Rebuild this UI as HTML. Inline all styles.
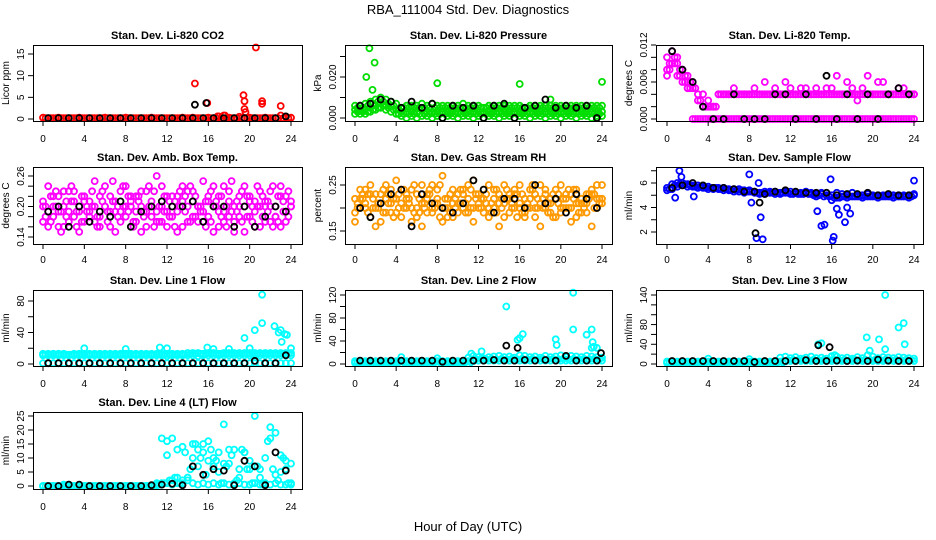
<!DOCTYPE html>
<html><head><meta charset="utf-8"><style>
html,body{margin:0;padding:0;background:#fff;}
svg{display:block;font-family:"Liberation Sans",Arial,sans-serif;}
</style></head><body>
<svg id="c" width="936" height="540" viewBox="0 0 936 540" xmlns="http://www.w3.org/2000/svg">
<text x="468" y="14" text-anchor="middle" font-size="13">RBA_111004  Std. Dev. Diagnostics</text>
<text x="468" y="531" text-anchor="middle" font-size="13">Hour of Day (UTC)</text>
</svg>
<script>
const H=[0,0.5,1,1.5,2,2.5,3,3.5,4,4.5,5,5.5,6,6.5,7,7.5,8,8.5,9,9.5,10,10.5,11,11.5,12,12.5,13,13.5,14,14.5,15,15.5,16,16.5,17,17.5,18,18.5,19,19.5,20,20.5,21,21.5,22,22.5,23,23.5,24];
const HQ=[0.25,0.75,1.25,1.75,2.25,2.75,3.25,3.75,4.25,4.75,5.25,5.75,6.25,6.75,7.25,7.75,8.25,8.75,9.25,9.75,10.25,10.75,11.25,11.75,12.25,12.75,13.25,13.75,14.25,14.75,15.25,15.75,16.25,16.75,17.25,17.75,18.25,18.75,19.25,19.75,20.25,20.75,21.25,21.75,22.25,22.75,23.25,23.75];
const HB=[0.5,1.5,2.5,3.5,4.5,5.5,6.5,7.5,8.5,9.5,10.5,11.5,12.5,13.5,14.5,15.5,16.5,17.5,18.5,19.5,20.5,21.5,22.5,23.5];
const xTicks=[0,4,8,12,16,20,24];

const co2Red=[0.3,0.2,0.2,0.3,0.2,0.2,0.2,0.3,0.2,0.2,0.2,0.2,0.3,0.2,0.2,0.2,0.3,0.2,0.2,0.2,0.2,0.3,0.2,0.2,0.2,0.2,0.2,0.3,0.2,0.3,0.2,0.2,0.3,0.2,0.6,0.8,0.3,0.2,0.5,0.2,0.3,0.2,0.2,0.3,0.2,0.2,0.8,0.4,0.3];
const co2RedQ=[0.2,0.2,0.2,0.2,0.2,0.2,0.2,0.2,0.2,0.2,0.2,0.2,0.2,0.2,0.2,0.2,0.2,0.2,0.2,0.2,0.2,0.2,0.2,0.2,0.2,0.2,0.2,0.2,0.2,0.2,0.2,0.2,0.2,0.2,0.2,0.2,0.2,0.2,0.2,0.2,0.2,0.2,0.2,0.2,0.2,0.2,0.2,0.2];
const co2OutH=[14.7,15.9,19.4,19.5,19.5,19.6,20.6,21.2,21.2,23,17.6,16.9];
const co2OutV=[8.2,3.7,5.5,4.1,2.3,1.6,16.5,4.1,3.5,3.0,0.8,0.6];
const co2Black=[0.2,0.2,0.2,0.2,0.2,0.2,0.2,0.2,0.2,0.2,0.2,0.2,0.2,0.2,0.2,0.2,0.2,0.2,0.2,0.2,0.2,0.2,0.2,0.6];
const co2BOutH=[14.7,15.8];
const co2BOutV=[3.3,3.7];

const presHigh=[0.006,0.006,0.007,0.008,0.009,0.010,0.009,0.008,0.007,0.005,0.006,0.006,0.006,0.007,0.006,0.007,0.006,0.006,0.006,0.006,0.006,0.007,0.006,0.006,0.006,0.005,0.006,0.006,0.006,0.006,0.006,0.006,0.006,0.005,0.006,0.006,0.006,0.006,0.006,0.006,0.006,0.006,0.006,0.006,0.006,0.006,0.006,0.006,0.006];
const presMid=[0.004,0.004,0.004,0.005,0.006,0.007,0.006,0.006,0.004,0.003,0.003,0.003,0.003,0.004,0.003,0.003,0.003,0.003,0.003,0.003,0.003,0.003,0.003,0.003,0.003,0.003,0.003,0.003,0.003,0.003,0.003,0.003,0.003,0.003,0.003,0.003,0.003,0.003,0.003,0.003,0.003,0.003,0.003,0.003,0.003,0.003,0.003,0.003,0.003];
const presLow=[0.002,0.002,0.002,0.003,0.004,0.005,0.004,0.003,0.002,0.001,0.000,0.001,0.000,0.001,0.001,0.000,0.001,0.000,0.001,0.001,0.000,0.001,0.001,0.000,0.001,0.000,0.001,0.001,0.000,0.001,0.001,0.000,0.001,0.001,0.000,0.001,0.001,0.000,0.001,0.001,0.000,0.001,0.001,0.000,0.001,0.001,0.000,0.001,0.001];
const presD=[0.005,0.005,0.006,0.007,0.008,0.008,0.007,0.006,0.004,0.005,0.005,0.005,0.005,0.005,0.005,0.005,0.005,0.005,0.005,0.005,0.005,0.005,0.005,0.005,0.005,0.005,0.005,0.005,0.005,0.005,0.005,0.005,0.005,0.005,0.005,0.005,0.005,0.005,0.005,0.005,0.005,0.005,0.005,0.005,0.005,0.005,0.005,0.005];
const presE=[0.003,0.003,0.003,0.004,0.005,0.006,0.005,0.004,0.002,0.002,0.002,0.002,0.002,0.002,0.002,0.002,0.002,0.002,0.002,0.002,0.002,0.002,0.002,0.002,0.002,0.002,0.002,0.002,0.002,0.002,0.002,0.002,0.002,0.002,0.002,0.002,0.002,0.002,0.002,0.002,0.002,0.002,0.002,0.002,0.002,0.002,0.002,0.002];
const presOutH=[1.1,1.4,1.7,1.9,8,16,24,19];
const presOutV=[0.020,0.034,0.0137,0.027,0.017,0.0166,0.0176,0.009];
const presBlack=[0.006,0.007,0.009,0.008,0.005,0.008,0.005,0.007,0.000,0.006,0.005,0.006,0.000,0.006,0.007,0.000,0.005,0.006,0.009,0.005,0.006,0.005,0.006,0.000];

const tempA=[0.010,0.011,0.009,0.008,0.007,0.006,0.004,0.002,0.002,0.002,0.004,0.004,0.004,0.004,0.004,0.004,0.004,0.004,0.004,0.004,0.004,0.004,0.004,0.004,0.004,0.004,0.004,0.004,0.004,0.004,0.004,0.004,0.004,0.004,0.004,0.004,0.004,0.004,0.004,0.004,0.004,0.004,0.004,0.004,0.004,0.004,0.004,0.004,0.004];
const tempB=[0.008,0.009,0.007,0.006,0.005,0.000,0.000,0.000,0.000,0.000,0.000,0.000,0.000,0.000,0.000,0.000,0.000,0.000,0.000,0.000,0.000,0.000,0.000,0.000,0.000,0.000,0.000,0.000,0.000,0.000,0.000,0.000,0.000,0.000,0.000,0.000,0.000,0.000,0.000,0.000,0.000,0.000,0.000,0.000,0.000,0.000,0.000,0.000,0.000];
const tempC=[0.007,0.009,0.010,0.008,0.006,0.005,0.003,0.004,0.003,0.002,0.004,0.004,0.004,0.005,0.004,0.004,0.004,0.005,0.004,0.006,0.004,0.005,0.004,0.006,0.005,0.004,0.005,0.005,0.004,0.005,0.004,0.005,0.005,0.007,0.004,0.006,0.005,0.003,0.005,0.007,0.004,0.006,0.006,0.004,0.004,0.005,0.005,0.004,0.004];
const tempD=[0.009,0.010,0.008,0.007,0.006,0.005,0.003,0.002,0.002,0.002,0.004,0.004,0.004,0.004,0.004,0.004,0.004,0.004,0.004,0.004,0.004,0.004,0.004,0.004,0.004,0.004,0.004,0.004,0.004,0.004,0.004,0.004,0.004,0.004,0.004,0.004,0.004,0.004,0.004,0.004,0.004,0.004,0.004,0.004,0.004,0.004,0.004,0.004];
const tempE=[0.008,0.009,0.007,0.006,0.005,0.000,0.000,0.000,0.000,0.000,0.000,0.000,0.000,0.000,0.000,0.000,0.000,0.000,0.000,0.000,0.000,0.000,0.000,0.000,0.000,0.000,0.000,0.000,0.000,0.000,0.000,0.000,0.000,0.000,0.000,0.000,0.000,0.000,0.000,0.000,0.000,0.000,0.000,0.000,0.000,0.000,0.000,0.000];
const tempBlack=[0.011,0.008,0.006,0.002,0.000,0.000,0.004,0.000,0.000,0.000,0.004,0.004,0.000,0.004,0.000,0.007,0.000,0.004,0.000,0.004,0.000,0.004,0.005,0.004];

const ambA=[0.21,0.24,0.18,0.22,0.16,0.19,0.23,0.2,0.17,0.21,0.25,0.18,0.2,0.22,0.15,0.19,0.24,0.21,0.17,0.2,0.23,0.18,0.26,0.2,0.16,0.22,0.19,0.24,0.17,0.21,0.2,0.25,0.18,0.15,0.22,0.19,0.23,0.17,0.2,0.24,0.18,0.21,0.16,0.2,0.23,0.18,0.22,0.19,0.21];
const ambB=[0.17,0.19,0.22,0.16,0.2,0.23,0.18,0.15,0.21,0.19,0.17,0.22,0.2,0.16,0.19,0.23,0.18,0.2,0.22,0.15,0.19,0.21,0.17,0.24,0.19,0.18,0.22,0.16,0.2,0.23,0.17,0.19,0.21,0.2,0.16,0.24,0.18,0.2,0.22,0.15,0.21,0.19,0.23,0.17,0.2,0.18,0.16,0.22,0.2];
const ambC=[0.2,0.16,0.2,0.19,0.23,0.17,0.21,0.19,0.22,0.18,0.2,0.16,0.24,0.19,0.21,0.17,0.2,0.22,0.19,0.23,0.16,0.2,0.19,0.17,0.22,0.2,0.15,0.21,0.23,0.18,0.2,0.17,0.22,0.24,0.19,0.17,0.21,0.15,0.18,0.2,0.22,0.16,0.2,0.21,0.17,0.2,0.24,0.17,0.2];
const ambD=[0.18,0.22,0.2,0.15,0.21,0.24,0.19,0.17,0.2,0.23,0.16,0.21,0.19,0.25,0.18,0.2,0.22,0.17,0.21,0.19,0.24,0.16,0.2,0.22,0.18,0.21,0.23,0.19,0.17,0.22,0.2,0.16,0.23,0.21,0.18,0.2,0.25,0.19,0.17,0.22,0.2,0.24,0.18,0.21,0.16,0.22,0.19,0.23];
const ambE=[0.2,0.17,0.23,0.19,0.18,0.21,0.16,0.22,0.19,0.2,0.18,0.23,0.17,0.21,0.2,0.24,0.19,0.16,0.22,0.18,0.2,0.23,0.17,0.19,0.21,0.16,0.2,0.22,0.24,0.18,0.19,0.21,0.17,0.2,0.22,0.16,0.19,0.21,0.23,0.18,0.17,0.2,0.22,0.19,0.24,0.17,0.21,0.18];
const ambBlack=[0.19,0.2,0.16,0.2,0.17,0.19,0.18,0.21,0.16,0.19,0.2,0.21,0.2,0.2,0.21,0.17,0.2,0.2,0.16,0.2,0.16,0.18,0.2,0.19];

const rhA=[0.22,0.2,0.24,0.18,0.23,0.21,0.25,0.19,0.22,0.24,0.2,0.17,0.23,0.21,0.19,0.25,0.22,0.2,0.18,0.24,0.21,0.23,0.19,0.26,0.2,0.22,0.18,0.24,0.21,0.25,0.19,0.23,0.2,0.22,0.24,0.18,0.21,0.23,0.19,0.22,0.25,0.2,0.23,0.18,0.22,0.21,0.24,0.2,0.22];
const rhB=[0.19,0.24,0.21,0.23,0.2,0.17,0.22,0.24,0.19,0.21,0.23,0.2,0.18,0.25,0.22,0.2,0.24,0.17,0.22,0.21,0.19,0.24,0.22,0.2,0.23,0.19,0.25,0.2,0.23,0.18,0.22,0.24,0.21,0.19,0.2,0.23,0.25,0.2,0.22,0.24,0.19,0.22,0.2,0.24,0.21,0.19,0.23,0.25,0.21];
const rhC=[0.17,0.22,0.2,0.25,0.16,0.23,0.19,0.21,0.26,0.18,0.22,0.24,0.2,0.16,0.23,0.19,0.21,0.27,0.2,0.18,0.23,0.2,0.25,0.17,0.21,0.24,0.2,0.22,0.16,0.21,0.23,0.2,0.25,0.18,0.22,0.2,0.16,0.24,0.21,0.18,0.2,0.23,0.17,0.21,0.19,0.23,0.16,0.22,0.25];
const rhD=[0.21,0.23,0.19,0.22,0.2,0.24,0.21,0.18,0.23,0.2,0.22,0.25,0.19,0.21,0.24,0.2,0.18,0.22,0.23,0.2,0.21,0.19,0.24,0.22,0.2,0.23,0.21,0.19,0.22,0.24,0.2,0.18,0.23,0.21,0.25,0.2,0.22,0.19,0.23,0.21,0.2,0.24,0.22,0.19,0.21,0.23,0.2,0.22];
const rhE=[0.2,0.22,0.23,0.2,0.21,0.19,0.23,0.22,0.2,0.24,0.21,0.19,0.22,0.2,0.23,0.21,0.25,0.2,0.19,0.22,0.24,0.21,0.2,0.23,0.22,0.21,0.19,0.24,0.2,0.22,0.21,0.23,0.19,0.2,0.24,0.22,0.2,0.21,0.18,0.23,0.22,0.2,0.24,0.21,0.2,0.22,0.23,0.21];
const rhBlack=[0.2,0.18,0.21,0.23,0.24,0.16,0.23,0.21,0.2,0.19,0.21,0.26,0.24,0.19,0.22,0.22,0.2,0.25,0.21,0.22,0.19,0.23,0.22,0.2];

const flowA=[5.6,5.9,6,6,5.9,5.8,5.8,5.7,5.7,5.6,5.6,5.6,5.5,5.5,5.5,5.4,5.3,5.3,5.2,5.3,5.2,5.3,5.2,5.2,5.3,5.2,5.2,5.2,5.1,5.1,5.1,5.0,5.0,5.2,4.9,5.0,4.9,5.0,5.0,4.9,4.9,5.0,5.0,4.9,5.0,4.9,5.0,5.0,5.0];
const flowB=[5.4,5.5,5.7,5.8,5.7,5.7,5.6,5.6,5.5,5.5,5.5,5.4,5.4,5.3,5.3,5.2,5.4,5.2,5.1,5.1,5.3,5.1,5.1,5.3,5.1,5.2,5.1,5.3,5.2,4.9,5.2,5.0,4.6,4.8,5.1,4.8,5.2,4.9,4.8,5.1,5.0,4.8,4.9,5.0,4.8,5.0,4.9,4.8,5.1];
const flowD=[5.5,5.8,5.9,5.9,5.8,5.7,5.7,5.6,5.6,5.6,5.5,5.5,5.4,5.4,5.4,5.3,5.3,5.2,5.2,5.2,5.2,5.2,5.2,5.2,5.1,5.1,5.1,5.1,5.0,5.0,4.9,4.9,4.8,4.8,4.9,4.9,4.9,4.9,4.9,4.9,4.9,4.9,4.9,4.9,4.9,4.9,4.9,4.9];
const flowOutH=[0.8,1.2,1.4,2.6,8,8.2,8.7,8.9,9.1,9.3,14.6,15,15.3,15.9,16.1,16.2,16.5,16.7,17.3,17.5,17.8,24];
const flowOutV=[4.8,7,6.5,4.9,6.7,4.4,1.5,6,3.2,1.4,3.7,2.5,2.6,6.3,1.3,1.6,3.9,3.4,2.8,4,3.5,6.2];
const flowBlack=[5.6,5.8,6.0,5.8,5.6,5.6,5.5,5.3,5.3,5.1,5.3,5.4,5.3,5.2,5.2,5.2,5.0,5.1,5.1,5.2,5.0,5.1,5.0,5.0];
const flowBOutH=[8.6,9.0];
const flowBOutV=[1.9,4.4];

const l1A=[13,13,13,13,13,12,13,13,13,13,13,13,13,13,13,13,13,13,13,13,13,13,13,13,13,13,13,13,14,14,14,13,14,14,13,14,14,14,14,14,14,14,14,14,14,14,14,14,14];
const l1B=[11,11,11,11,11,11,11,11,11,11,11,11,11,11,11,11,11,11,11,11,11,11,11,11,10,11,11,11,11,11,10,11,11,11,11,11,11,11,11,11,11,11,11,11,11,11,11,11,11];
const l1D=[12,12,12,12,12,12,12,12,12,12,12,12,12,12,12,12,12,12,12,12,12,12,12,12,12,12,12,12,13,13,13,13,13,13,13,13,13,13,13,13,13,13,13,13,13,13,13,13];
const l1Low=[1,1,1,1,1,1,1,1,1,1,1,1,1,1,1,1,1,1,1,1,1,1,1,1,1,1,1,1,1,1,1,1,1,1,1,1,1,1,1,1,1,1,1,1,1,1,1,1,1];
const l1OutH=[4,8,11.3,12,15.9,18,19.5,20,20.5,21.2,21.2,22.4,22.8,23,23.1,23.4,23.6,24,16.5];
const l1OutV=[20,19,21,20,21,19,33,20,43,88,52,48,40,43,28,38,37,20,19];
const l1Black=[1,1,1,1,1,1,1,1,1,1,1,1,1,1,1,1,1,1,1,1,4,1,1,11];

const l2A=[5,5,5,5,5,5,5,5,5,5,5,5,5,5,5,5,5,5,5,5,5,5,5,5,6,6,6,6,6,6,6,6,6,6,6,6,6,6,6,6,6,6,6,6,6,6,6,6,6];
const l2B=[2,2,2,2,2,2,2,2,2,12,2,2,2,2,2,2,10,2,2,2,2,2,11,14,12,10,12,13,14,12,13,11,15,14,12,13,11,14,12,13,15,12,14,13,12,14,13,12,11];
const l2D=[3,3,3,3,3,3,3,3,3,3,3,3,3,3,3,3,3,3,3,3,3,3,3,8,9,8,9,8,9,8,9,8,9,8,9,8,9,8,9,8,9,8,9,8,9,8,9,8];
const l2OutH=[14.7,15.8,16,16.3,11.3,12.3,19.5,19.6,21.2,21.2,22.5,23,23,23.1,23.2,23.5];
const l2OutV=[100,42,45,52,18,22,43,33,124,60,51,28,60,38,30,28];
const l2Black=[6,6,6,6,6,6,6,6,4,6,6,6,6,7,6,6,7,6,7,6,14,6,6,6];
const l2BOutH=[14.7,15.8,23.9];
const l2BOutV=[32,28,19];

const l3A=[5,5,5,5,5,5,5,5,5,5,5,5,5,5,5,5,5,5,5,5,5,5,5,5,6,6,6,6,6,6,6,6,6,6,6,6,6,6,6,6,6,6,6,6,6,6,6,6,6];
const l3B=[2,2,2,2,2,2,2,2,11,2,2,2,2,2,2,2,10,2,2,2,2,2,13,15,12,14,11,13,15,12,13,11,16,15,12,13,11,14,12,18,15,12,14,13,12,14,13,12,11];
const l3D=[3,3,3,3,3,3,3,3,3,3,3,3,3,3,3,3,3,3,3,3,3,3,3,8,9,8,9,8,9,8,9,8,9,8,9,8,9,8,9,8,9,8,9,8,9,8,9,8];
const l3OutH=[14.7,15,16,16.3,19.4,19.7,20.6,21.2,21.2,22.5,23,23.1];
const l3OutV=[40,42,15,18,54,27,50,140,30,74,83,40];
const l3Black=[6,6,6,6,6,6,6,6,4,6,6,6,6,8,6,6,7,6,7,6,9,7,6,6];
const l3BOutH=[14.7,15.8];
const l3BOutV=[38,34];

const l4A=[0,0,0,0,0,0,0,0,0,0,0,0,0,0,0,0,0,0,0,0,0,0,1,17,11,2,3,14,2,10,13,15,9,7,12,22,8,13,3,12,6,25,3,10,21,19,5,9,8];
const l4B=[0,0,0,0,0.5,0.5,0,0,0,0,0,0,0,0,0,0,0,0,0,0,0,0,0,1,16,17,13,1,3,15,7,12,16,10,5,8,13,1,6,12,9,7,6,1,17,4,11,6,0.5];
const l4C=[0,0,0,0,0,0,0,0,0,0,0,0,0,0,0,0,0,0,0,0,0,0,0.5,0.5,1,0.5,1,2,3,1,0.5,1,0.5,1,0.5,1,0.5,0.5,1,0.5,0.5,1,0.5,1,0.5,1,0.5,0.5,1];
const l4D=[0,0,0,0,0,0,0,0,0,0,0,0,0,0,0,0,0,0,0,0,0,0,0.5,1,2,3,1,12,6,15,10,4,13,9,1,7,11,2,13,6,1,7,0.5,16,6,2,10,1];
const l4Black=[0,0,0.5,0.5,0,0,0,0,0,0,0.3,0.5,0.8,0.3,7,4,6,5.5,0.3,9,7,0.3,12,5.5];

const RED="#ff0000",GRN="#00dd00",MAG="#ff00ff",ORG="#ff9900",BLU="#0000ff",CYN="#00ffff",BLK="#000000";
const colX=[{b0:33,b1:302,h0:43,h1:291},{b0:345,b1:612,h0:355,h1:602},{b0:656,b1:923,h0:667,h1:914}];
const rowY=[{t:45,b:121,tt:35,xl:138},{t:167,b:244,tt:157,xl:259},{t:290,b:366,tt:280,xl:383},{t:412,b:489,tt:402,xl:506}];

const panels=[
 {name:"co2",title:"Stan. Dev. Li-820 CO2",yt:"Licor ppm",c:0,r:0,cal:[0,119,15,54],ticks:[0,5,10,15],labs:["0","5","10","15"],
  s:[[H,co2Red,RED],[HQ,co2RedQ,RED],[co2OutH,co2OutV,RED],[HB,co2Black,BLK],[co2BOutH,co2BOutV,BLK]]},
 {name:"pressure",title:"Stan. Dev. Li-820 Pressure",yt:"kPa",c:1,r:0,cal:[0,118,0.02,77],ticks:[0,0.01,0.02,0.03],labs:["0.000","","0.020",""],
  s:[[H,presLow,GRN],[HQ,presE,GRN],[H,presMid,GRN],[HQ,presD,GRN],[H,presHigh,GRN],[presOutH,presOutV,GRN],[HB,presBlack,BLK]]},
 {name:"temp",title:"Stan. Dev. Li-820 Temp.",yt:"degrees C",c:2,r:0,cal:[0,119,0.012,45],ticks:[0,0.002,0.004,0.006,0.008,0.01,0.012],labs:["0.000","","","0.006","","","0.012"],
  s:[[H,tempB,MAG],[HQ,tempE,MAG],[H,tempA,MAG],[HQ,tempD,MAG],[H,tempC,MAG],[HB,tempBlack,BLK]]},
 {name:"amb-box-temp",title:"Stan. Dev. Amb. Box Temp.",yt:"degrees C",c:0,r:1,cal:[0.14,237,0.26,176],ticks:[0.14,0.16,0.18,0.2,0.22,0.24,0.26],labs:["0.14","","","0.20","","","0.26"],
  s:[[H,ambA,MAG],[H,ambB,MAG],[H,ambC,MAG],[HQ,ambD,MAG],[HQ,ambE,MAG],[HB,ambBlack,BLK]]},
 {name:"gas-rh",title:"Stan. Dev. Gas Stream RH",yt:"percent",c:1,r:1,cal:[0.15,231,0.25,185],ticks:[0.15,0.2,0.25],labs:["0.15","","0.25"],
  s:[[H,rhA,ORG],[H,rhB,ORG],[H,rhC,ORG],[HQ,rhD,ORG],[HQ,rhE,ORG],[HB,rhBlack,BLK]]},
 {name:"sample-flow",title:"Stan. Dev. Sample Flow",yt:"ml/min",c:2,r:1,cal:[2,232,6,183],ticks:[2,3,4,5,6,7],labs:["2","","4","","6",""],
  s:[[H,flowA,BLU],[H,flowB,BLU],[HQ,flowD,BLU],[flowOutH,flowOutV,BLU],[HB,flowBlack,BLK],[flowBOutH,flowBOutV,BLK]]},
 {name:"line1-flow",title:"Stan. Dev. Line 1 Flow",yt:"ml/min",c:0,r:2,cal:[0,364,80,301],ticks:[0,20,40,60,80],labs:["0","","40","","80"],
  s:[[H,l1Low,CYN],[H,l1B,CYN],[HQ,l1D,CYN],[H,l1A,CYN],[l1OutH,l1OutV,CYN],[HB,l1Black,BLK]]},
 {name:"line2-flow",title:"Stan. Dev. Line 2 Flow",yt:"ml/min",c:1,r:2,cal:[0,364,120,295],ticks:[0,20,40,60,80,100,120],labs:["0","","40","","80","","120"],
  s:[[H,l2B,CYN],[HQ,l2D,CYN],[H,l2A,CYN],[l2OutH,l2OutV,CYN],[HB,l2Black,BLK],[l2BOutH,l2BOutV,BLK]]},
 {name:"line3-flow",title:"Stan. Dev. Line 3 Flow",yt:"ml/min",c:2,r:2,cal:[0,364,140,295],ticks:[0,20,40,60,80,100,120,140],labs:["0","","40","","80","","","140"],
  s:[[H,l3B,CYN],[HQ,l3D,CYN],[H,l3A,CYN],[l3OutH,l3OutV,CYN],[HB,l3Black,BLK],[l3BOutH,l3BOutV,BLK]]},
 {name:"line4-flow",title:"Stan. Dev. Line 4 (LT) Flow",yt:"ml/min",c:0,r:3,cal:[0,486,25,416],ticks:[0,5,10,15,20,25],labs:["0","5","10","15","20","25"],
  s:[[H,l4C,CYN],[H,l4A,CYN],[H,l4B,CYN],[HQ,l4D,CYN],[HB,l4Black,BLK]]}
];

const NS="http://www.w3.org/2000/svg";
const svg=document.getElementById("c");
function mk(tag,attrs,parent){const e=document.createElementNS(NS,tag);for(const k in attrs)e.setAttribute(k,attrs[k]);parent.appendChild(e);return e;}

panels.forEach(p=>{
  const C=colX[p.c],R=rowY[p.r];
  const xs=h=>C.h0+(h/24)*(C.h1-C.h0);
  const ys=v=>p.cal[1]+(v-p.cal[0])*(p.cal[3]-p.cal[1])/(p.cal[2]-p.cal[0]);
  const g=mk("g",{},svg);
  
  
  const t=mk("text",{x:(C.b0+C.b1)/2,y:R.tt+4,"text-anchor":"middle","font-size":"11","font-weight":"bold"},g);
  t.textContent=p.title;
  
  
  const yt=mk("text",{x:C.b0-24,y:(R.t+R.b)/2,"text-anchor":"middle","font-size":"10",transform:`rotate(-90 ${C.b0-24} ${(R.t+R.b)/2})`},g);
  yt.textContent=p.yt;
  
  
  const pts=mk("g",{fill:"none","stroke-width":"1.8"},g);
  
  
  p.s.forEach(s=>{
    const hs=s[0],vs=s[1];
    for(let i=0;i<vs.length;i++){
      const c=mk("circle",{cx:xs(hs[i]).toFixed(1),cy:ys(vs[i]).toFixed(1),r:"3",stroke:s[2]},pts);
      
      
    }
  });
  const box=mk("rect",{x:C.b0+0.5,y:R.t+0.5,width:C.b1-C.b0,height:R.b-R.t,fill:"none",stroke:"#000","stroke-width":"1"},g);
  
  
  const ax=mk("g",{stroke:"#000","stroke-width":"1"},g);
  
  
  mk("line",{x1:xs(0),y1:R.b+0.5,x2:xs(24),y2:R.b+0.5},ax);
  xTicks.forEach(h=>{
    mk("line",{x1:xs(h),y1:R.b,x2:xs(h),y2:R.b+5},ax);
    const l=mk("text",{x:xs(h),y:R.xl+4,"text-anchor":"middle","font-size":"10",stroke:"none"},g);
    l.textContent=h;
    
    
  });
  const yTop=ys(p.ticks[p.ticks.length-1]),yBot=ys(p.ticks[0]);
  mk("line",{x1:C.b0+0.5,y1:yTop,x2:C.b0+0.5,y2:yBot},ax);
  p.ticks.forEach((v,i)=>{
    const y=ys(v);
    mk("line",{x1:C.b0-5,y1:y,x2:C.b0,y2:y},ax);
    if(p.labs[i]){
      const l=mk("text",{x:C.b0-9,y:y,"text-anchor":"middle","font-size":"10",transform:`rotate(-90 ${C.b0-9} ${y})`},g);
      l.textContent=p.labs[i];
      
      
    }
  });
});
</script>
</body></html>
